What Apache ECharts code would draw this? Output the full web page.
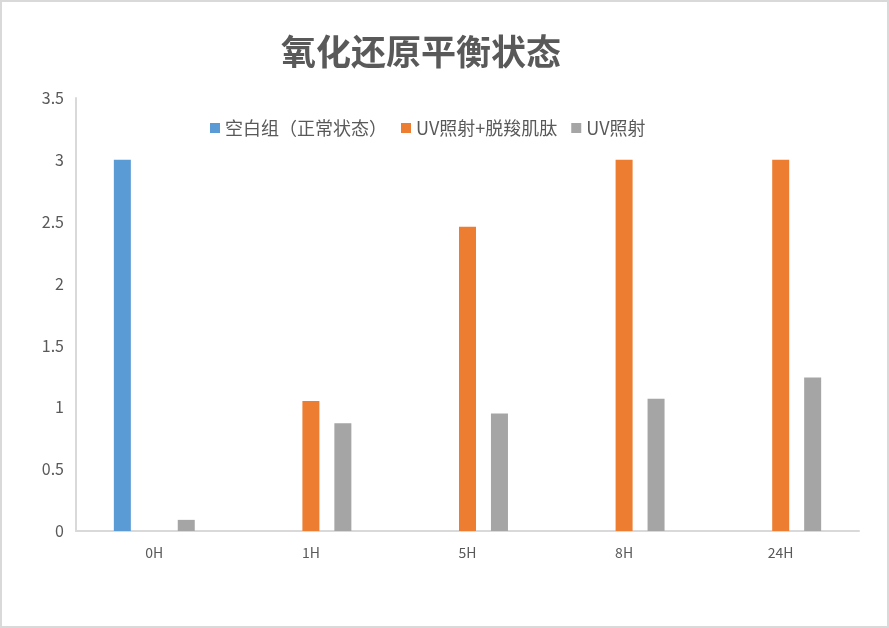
<!DOCTYPE html>
<html><head><meta charset="utf-8">
<script src="https://cdn.jsdelivr.net/npm/echarts@6/dist/echarts.min.js"></script>
<style>html,body{margin:0;padding:0;background:#fff}
#c{width:889px;height:628px;box-sizing:border-box;border:2px solid #d9d9d9;}</style>
</head><body><div id="c"></div>
<script>
var categories = ['0H','1H','5H','8H','24H'];
var seriesNames = ['空白组（正常状态）','UV照射+脱羧肌肽','UV照射'];
var blankVals = [3, null, null, null, null];
var uvTreatVals = [null, 1.05, 2.46, 3, 3];
var uvVals = [0.09, 0.87, 0.95, 1.07, 1.24];
var yTicks = {min:0, max:3.5, interval:0.5};

var chart = echarts.init(document.getElementById('c'));
var font = '"Microsoft YaHei","Noto Sans CJK SC",sans-serif';
chart.setOption({
  animation:false,
  title:{text:'氧化还原平衡状态', left:274, top:27,
    textStyle:{fontSize:35, fontWeight:'bold', color:'#595959', fontFamily:font}},
  legend:{top:112, left:203, itemWidth:10, itemHeight:10, itemGap:14,
    icon:'rect', textStyle:{fontSize:18, color:'#595959', fontFamily:font},
    data:seriesNames},
  grid:{left:74, right:28, top:96, bottom:95},
  xAxis:{type:'category', data:categories,
    axisLine:{lineStyle:{color:'#d9d9d9', width:2}},
    axisTick:{show:false},
    axisLabel:{fontSize:14, color:'#595959', margin:15, fontFamily:font}},
  yAxis:{type:'value', min:yTicks.min, max:yTicks.max, interval:yTicks.interval,
    axisLine:{show:true, lineStyle:{color:'#d9d9d9', width:2}},
    axisTick:{show:false}, splitLine:{show:false},
    axisLabel:{fontSize:16, color:'#595959', margin:12, fontFamily:font}},
  series:[
    {name:seriesNames[0], type:'bar', data:blankVals, barWidth:17, barGap:'88%', itemStyle:{color:'#5b9bd5'}},
    {name:seriesNames[1], type:'bar', data:uvTreatVals, barWidth:17, barGap:'88%', itemStyle:{color:'#ed7d31'}},
    {name:seriesNames[2], type:'bar', data:uvVals, barWidth:17, barGap:'88%', itemStyle:{color:'#a5a5a5'}}
  ]
});
</script></body></html>
